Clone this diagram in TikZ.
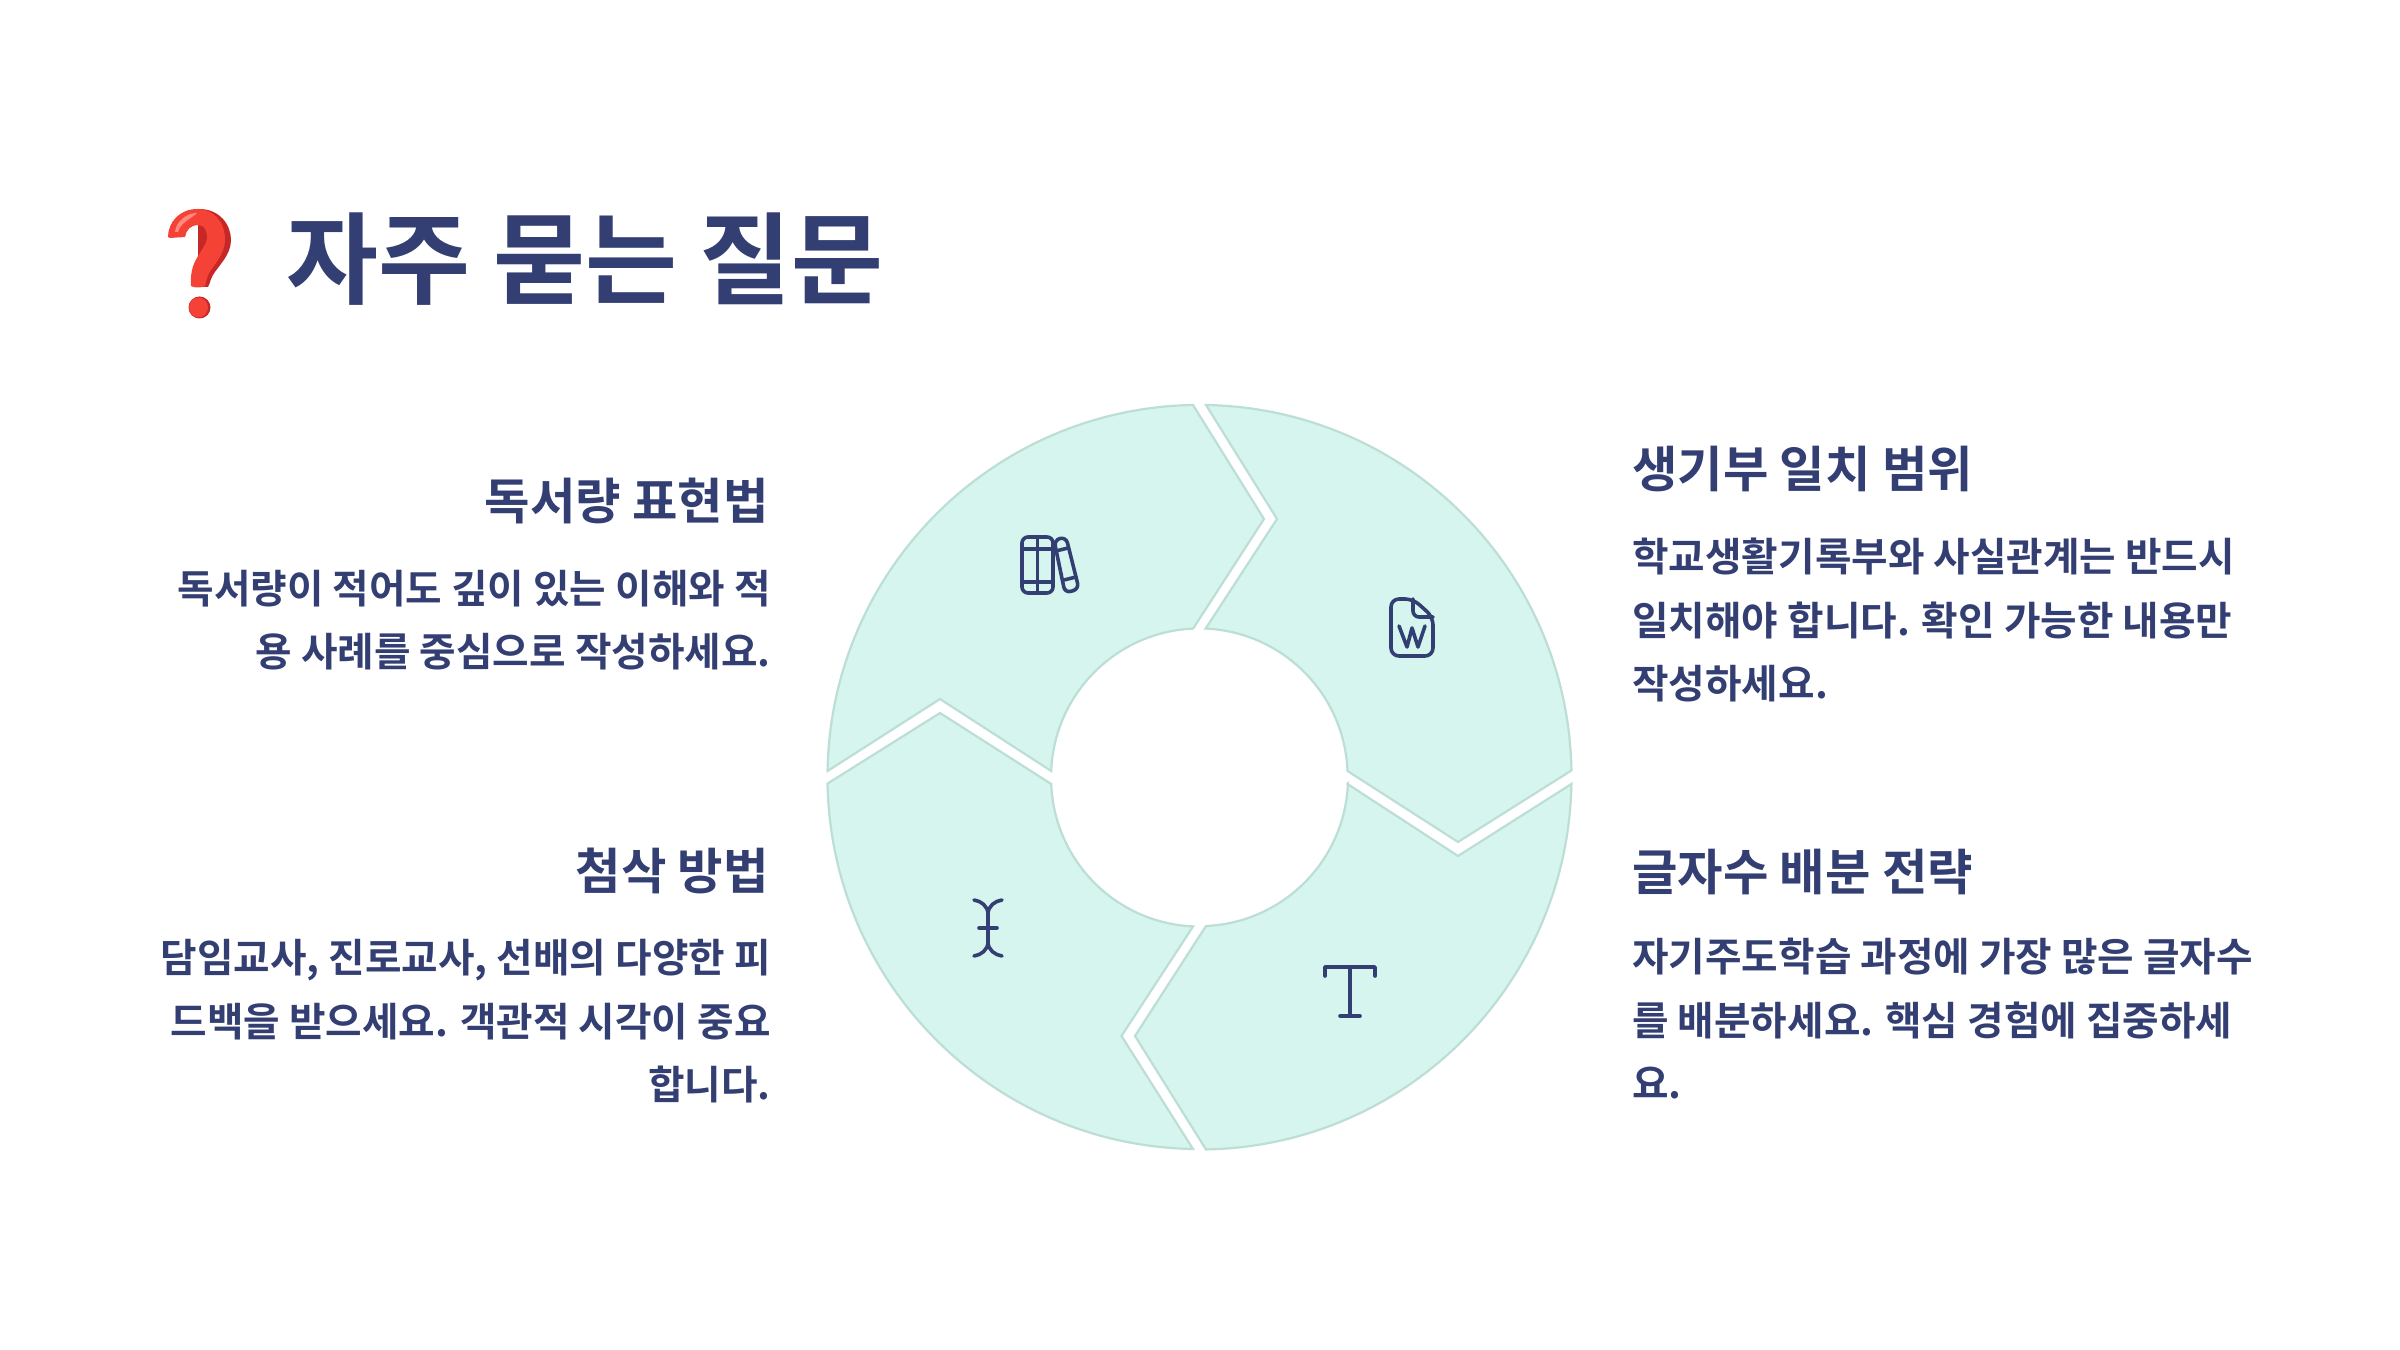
\documentclass[tikz,border=0pt]{standalone}
\usepackage{fontspec}
\setmainfont{Noto Sans CJK KR Medium}[BoldFont={Noto Sans CJK KR Bold}]
\definecolor{ink}{HTML}{333F72}
\definecolor{petal}{HTML}{D5F5EE}
\definecolor{petaledge}{HTML}{BCDED5}
\definecolor{qred}{HTML}{F44336}
\definecolor{qdark}{HTML}{C62828}
\definecolor{qlight}{HTML}{FF8A80}
\tikzset{
  x=0.5pt,y=0.5pt,
  petalshape/.style={fill=petal,draw=petaledge,line width=1.1pt,line join=miter},
  icon/.style={draw=ink,line width=1.8pt,line cap=round,line join=round,fill=none},
  titletext/.style={inner sep=0pt,text=ink,font=\fontsize{50}{50}\selectfont\bfseries,anchor=base west},
  headleft/.style={inner sep=0pt,text=ink,font=\fontsize{24.7}{30}\selectfont\bfseries,anchor=base east},
  headright/.style={inner sep=0pt,text=ink,font=\fontsize{24.7}{30}\selectfont\bfseries,anchor=base west},
  bodyleft/.style={inner sep=0pt,text=ink,font=\fontsize{19.85}{31.8}\selectfont\bfseries,anchor=base east,align=right},
  bodyright/.style={inner sep=0pt,text=ink,font=\fontsize{19.85}{31.8}\selectfont\bfseries,anchor=base west,align=left},
}
\begin{document}
\begin{tikzpicture}
\useasboundingbox (0,0) rectangle (2400,1350);
\coordinate (o) at (1199.5,573);
% petals: y up, centre o
\path[petalshape] (1206,945) arc[start angle=89,end angle=1,radius=372] -- (1458,508) -- (1347.5,579) arc[start angle=2.3,end angle=87.5,radius=148.5] -- (1277,831) -- cycle;
\path[petalshape] (1347.5,566) -- (1458,494) -- (1571.4,566) arc[start angle=-1,end angle=-89,radius=372] -- (1135,314) -- (1206,424) arc[start angle=-87.5,end angle=-2.3,radius=148.5] -- cycle;
\path[petalshape] (1193,201) arc[start angle=-91,end angle=-179,radius=372] -- (940,637) -- (1051.2,566) arc[start angle=182.3,end angle=267.5,radius=148.5] -- (1121.5,314) -- cycle;
\path[petalshape] (827.6,579) -- (940,651) -- (1051.2,579) arc[start angle=177.7,end angle=92.5,radius=148.5] -- (1264,831) -- (1193,945) arc[start angle=91,end angle=179,radius=372] -- cycle;
% title
\node[titletext] (title) at (286,1053) {자주 묻는 질문};
\begin{scope}
\fill[qdark] (199,1141) .. controls (220,1141) and (231,1125) .. (231,1110) .. controls (231,1095) and (219,1085) .. (213,1075) .. controls (210,1070) and (210,1066) .. (208,1063) -- (198,1063) -- (198,1141) -- cycle;
\fill[qred] (168,1113) .. controls (168,1128) and (180,1141) .. (197,1141) .. controls (214,1141) and (225,1128) .. (225,1110) .. controls (225,1095) and (213,1085) .. (208,1075) .. controls (206,1070) and (206,1066) .. (205,1064) .. controls (203,1062) and (193,1062) .. (191,1064) .. controls (190,1080) and (194,1088) .. (200,1097) .. controls (205,1105) and (208,1110) .. (207,1115) .. controls (206,1122) and (203,1125) .. (198,1125) .. controls (191,1125) and (186,1120) .. (185,1113) -- (170,1112) -- cycle;
\fill[qlight] (175,1118) .. controls (176,1128) and (186,1137) .. (197,1137) .. controls (191,1131) and (181,1128) .. (178,1118) -- cycle;
\fill[qdark] (199.5,1042.5) ellipse[x radius=11,y radius=11];
\fill[qred] (198.5,1042.5) ellipse[x radius=9.5,y radius=10];
\end{scope}
% left texts
\node[headleft] (h1) at (769,830) {독서량 표현법};
\node[bodyleft] (b1) at (771,683) {독서량이 적어도 깊이 있는 이해와 적\\용 사례를 중심으로 작성하세요.};
\node[headleft] (h2) at (769,460) {첨삭 방법};
\node[bodyleft] (b2) at (771,250) {담임교사, 진로교사, 선배의 다양한 피\\드백을 받으세요. 객관적 시각이 중요\\합니다.};
% right texts
\node[headright] (h3) at (1632,862) {생기부 일치 범위};
\node[bodyright] (b3) at (1632,651) {학교생활기록부와 사실관계는 반드시\\일치해야 합니다. 확인 가능한 내용만\\작성하세요.};
\node[headright] (h4) at (1632,459) {글자수 배분 전략};
\node[bodyright] (b4) at (1632,251) {자기주도학습 과정에 가장 많은 글자수\\를 배분하세요. 핵심 경험에 집중하세\\요.};
% book icon
\begin{scope}[icon]
\draw[rounded corners=3pt] (1022,813) rectangle (1053,757);
\draw (1037.5,813) -- (1037.5,757);
\draw (1022,801) -- (1053,801) (1022,768) -- (1053,768);
\draw[rounded corners=3pt] (1054,810) -- (1066,813) -- (1079,761) -- (1065,757) -- cycle;
\draw (1056,799) -- (1068,802) (1064,770) -- (1076,773);
\end{scope}
% word icon
\begin{scope}[icon]
\draw[rounded corners=4pt] (1413,751) -- (1391,751) -- (1391,694) -- (1433,694) -- (1433,733) -- cycle;
\draw[rounded corners=3pt] (1413,751) -- (1413,733) -- (1433,733);
\draw (1399,724) -- (1407,703) -- (1412,722) -- (1418,703) -- (1425,724);
\end{scope}
% T icon
\begin{scope}[icon]
\draw (1325,374) -- (1325,383) -- (1375,383) -- (1375,374);
\draw (1350,383) -- (1350,334);
\draw (1340,334) -- (1360,334);
\end{scope}
% cursor icon
\begin{scope}[icon]
\draw (974,450) .. controls (981,449) and (988,444) .. (988,436) -- (988,408) .. controls (988,400) and (981,395) .. (974,394);
\draw (1002,450) .. controls (995,449) and (988,444) .. (988,436);
\draw (1002,394) .. controls (995,395) and (988,400) .. (988,408);
\draw (979,422) -- (997,422);
\end{scope}
\end{tikzpicture}
\end{document}
